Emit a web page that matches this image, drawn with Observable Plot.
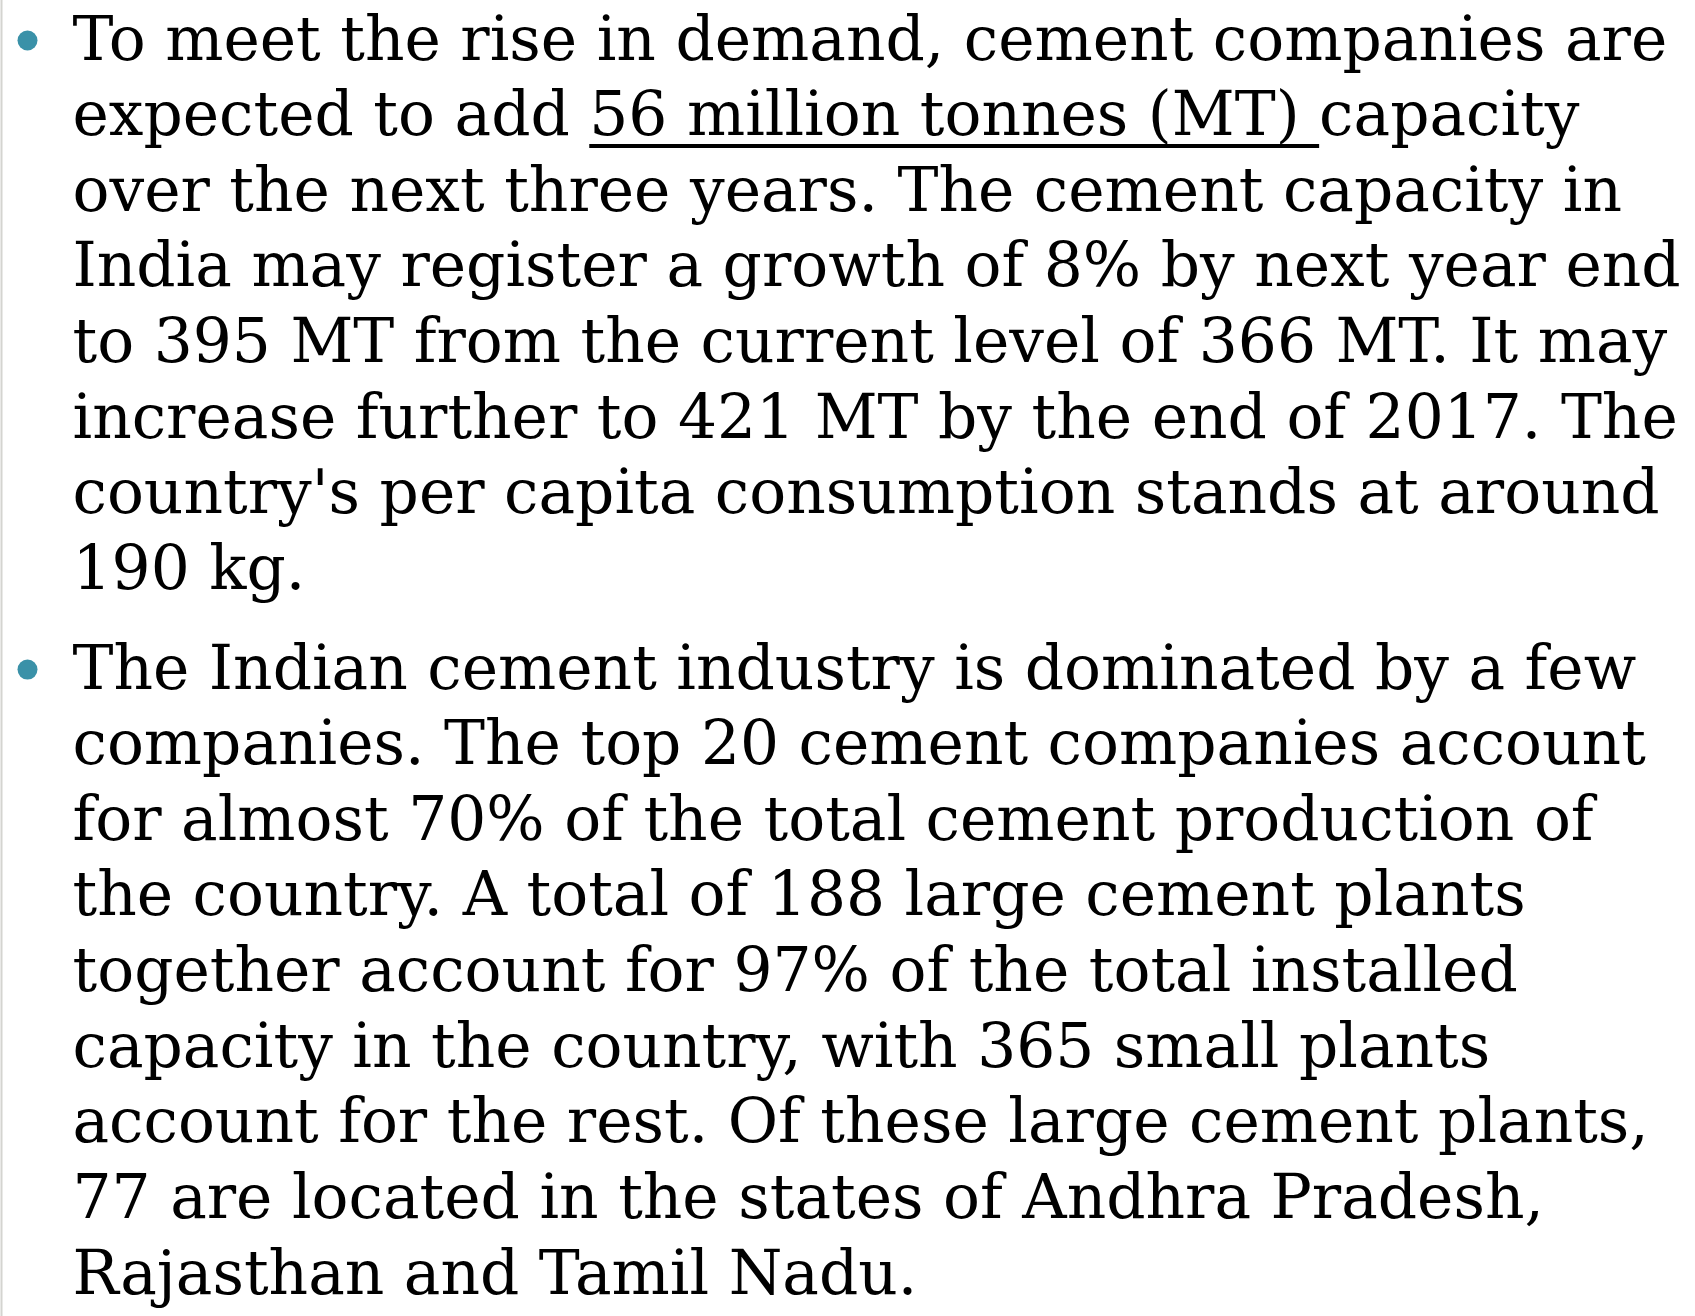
<!DOCTYPE html>
<html><head><meta charset="utf-8">
<script src="https://cdn.jsdelivr.net/npm/d3@7"></script>
<script src="https://cdn.jsdelivr.net/npm/@observablehq/plot@0.6"></script>
<style>html,body{margin:0;padding:0;background:#fff;overflow:hidden;}</style>
</head><body><div id="chart"></div>
<script>
const bullet1Lines = [
  "To meet the rise in demand, cement companies are",
  "expected to add 56 million tonnes (MT) capacity",
  "over the next three years. The cement capacity in",
  "India may register a growth of 8% by next year end",
  "to 395 MT from the current level of 366 MT. It may",
  "increase further to 421 MT by the end of 2017. The",
  "country's per capita consumption stands at around",
  "190 kg."
];
const bullet2Lines = [
  "The Indian cement industry is dominated by a few",
  "companies. The top 20 cement companies account",
  "for almost 70% of the total cement production of",
  "the country. A total of 188 large cement plants",
  "together account for 97% of the total installed",
  "capacity in the country, with 365 small plants",
  "account for the rest. Of these large cement plants,",
  "77 are located in the states of Andhra Pradesh,",
  "Rajasthan and Tamil Nadu."
];
const underlinedPhrase = "56 million tonnes (MT) ";
const paragraphs = [bullet1Lines, bullet2Lines];

const W = 1695, H = 1316;
const fontFamily = '"DejaVu Serif", serif';
const paraGap = 0.32;

const rows = [];
let k = 0;
paragraphs.forEach((lines, p) => lines.forEach((t, i) => {
  rows.push({para: p, first: i === 0, text: t, pos: k + p * paraGap, col: "text"});
  k++;
}));
const bullets = rows.filter(d => d.first).map(d => ({...d, col: "bullet"}));

// fit the font size so the first line spans the width seen in the reference
const ctx = document.createElement("canvas").getContext("2d");
ctx.font = `100px ${fontFamily}`;
const w100 = ctx.measureText(bullet1Lines[0]).width;
const fontSize = 100 * 1595 / w100;

const maxPos = rows[rows.length - 1].pos;
const chart = Plot.plot({
  width: W, height: H,
  marginLeft: 1, marginRight: 0, marginTop: 0, marginBottom: 0,
  style: {background: "#fff", overflow: "visible"},
  x: {type: "point", domain: ["bullet", "text"], range: [27, 72], padding: 0, axis: null},
  y: {domain: [0, maxPos], range: [59, 1293], axis: null},
  marks: [
    Plot.frame({anchor: "left", stroke: "#d4d4d0", strokeWidth: 2}),
    Plot.dot(bullets, {x: "col", y: "pos", dy: -19, r: 10, fill: "#3a91a8", stroke: "none"}),
    Plot.text(rows, {x: "col", y: "pos", text: "text", textAnchor: "start", lineAnchor: "bottom",
      fontSize: fontSize, fontFamily: "DejaVu Serif", fill: "#000"})
  ]
});
document.getElementById("chart").appendChild(chart);

// underline the phrase as in the reference (continuous line under the glyph run)
chart.querySelectorAll("text").forEach(t => {
  const s = t.textContent;
  const i = s.indexOf(underlinedPhrase);
  if (i < 0) return;
  const j = i + underlinedPhrase.length - 1;
  const p0 = t.getStartPositionOfChar(i);
  const p1 = t.getEndPositionOfChar(j);
  const ln = document.createElementNS("http://www.w3.org/2000/svg", "line");
  ln.setAttribute("x1", p0.x);
  ln.setAttribute("x2", p1.x);
  ln.setAttribute("y1", p0.y + 11);
  ln.setAttribute("y2", p0.y + 11);
  ln.setAttribute("stroke", "#000");
  ln.setAttribute("stroke-width", 4);
  const tr = t.getAttribute("transform");
  if (tr) ln.setAttribute("transform", tr);
  t.parentNode.appendChild(ln);
});
</script>
</body></html>
